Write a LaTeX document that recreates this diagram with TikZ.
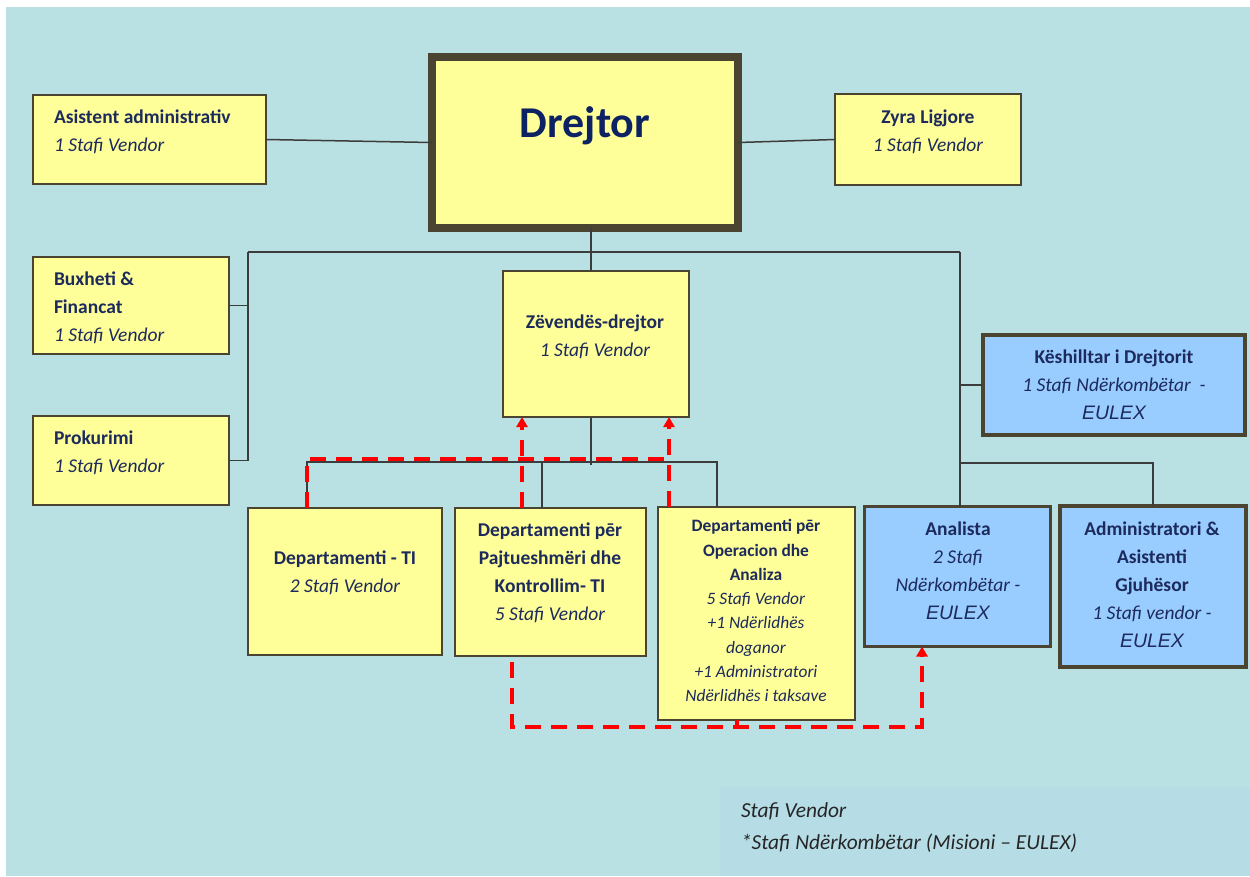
\documentclass[tikz,border=0pt]{standalone}
\usepackage{fontspec}
\setmainfont{Carlito}
\newfontfamily\arialf{Liberation Sans}
\usetikzlibrary{arrows.meta}
\definecolor{bg}{RGB}{185,224,226}
\definecolor{legbg}{RGB}{182,220,230}
\definecolor{yel}{RGB}{255,255,153}
\definecolor{blu}{RGB}{153,204,255}
\definecolor{bord}{RGB}{74,68,49}
\definecolor{navy}{RGB}{28,42,92}
\definecolor{dnavy}{RGB}{12,34,98}
\definecolor{conn}{RGB}{60,60,60}
\newcommand\eul{{\arialf\itshape\fontsize{19.5}{28}\selectfont EULEX}}
\begin{document}
\begin{tikzpicture}[x=1pt,y=-1pt,
  box/.style={draw=bord, inner sep=0pt, outer sep=0pt, anchor=north west},
  ybox/.style={box, fill=yel, line width=2pt},
  bbox/.style={box, fill=blu, line width=4pt},
  txt/.style={inner sep=0pt, outer sep=0pt, anchor=north, align=center, text=navy, font=\fontsize{19.5}{28}\selectfont},
  ltxt/.style={txt, anchor=north west, align=left},
  stxt/.style={txt, font=\fontsize{17.4}{24.3}\selectfont},
  conline/.style={draw=conn, line width=1.5pt},
  rdash/.style={draw=red, line width=3.6pt, dash pattern=on 16pt off 10pt},
  rtip/.style={-{Triangle[width=11pt,length=10pt]}}
]
\useasboundingbox (0,0) rectangle (1250,876);
\fill[white] (0,0) rectangle (1250,876);
\fill[bg] (6,7) rectangle (1250,876);
\fill[legbg] (720,787) rectangle (1250,876);

% coordinates for buses
\coordinate (lbus) at (248,252);
\coordinate (rbus) at (960,252);
\coordinate (tc) at (591,252);
\coordinate (dl) at (307,462);
\coordinate (dr) at (717,462);
\coordinate (pd) at (542,462);
\coordinate (abr) at (960,463);
\coordinate (ra) at (522,459);
\coordinate (rb) at (669,459);
\coordinate (rc) at (512,727);
\coordinate (rd) at (922,727);
\coordinate (re) at (737,727);

% boxes
\node[ybox, minimum width=233pt, minimum height=89pt] (asist) at (33,95) {};
\node[ybox, minimum width=196pt, minimum height=97pt] (buxh) at (33,257) {};
\node[ybox, minimum width=196pt, minimum height=89pt] (prok) at (33,416) {};
\node[ybox, minimum width=186pt, minimum height=91pt] (zyra) at (835,94) {};
\node[ybox, minimum width=186pt, minimum height=146pt] (zev) at (503,271) {};
\node[ybox, minimum width=194pt, minimum height=147pt] (deptti) at (248,508) {};
\node[ybox, minimum width=191pt, minimum height=148pt] (pajt) at (455,508) {};
\node[ybox, minimum width=197pt, minimum height=213pt] (oper) at (658,507) {};
\node[box, fill=yel, line width=8pt, minimum width=306pt, minimum height=171pt] (drejtor) at (432,57) {};
\node[bbox, minimum width=262pt, minimum height=100pt] (kesh) at (983,335) {};
\node[bbox, line width=3pt, minimum width=186pt, minimum height=140pt] (anal) at (864.5,506.5) {};
\node[bbox, minimum width=186pt, minimum height=161pt] (admin) at (1060,506) {};

% connectors
\draw[conline] (lbus) -- (rbus);
\draw[conline] (lbus) |- (prok.east);
\draw[conline] (rbus) -- (rbus |- anal.north);
\draw[conline] (abr) -| (admin.north);
\draw[conline] (tc |- zev.south) -- (tc |- 0,465);
\draw[conline] (dl |- deptti.north) -- (dl) -- (dr) -- (dr |- oper.north);
\draw[conline] (pd) -- (pd |- pajt.north);
\draw[conline] (asist.east) -- (drejtor.west);
\draw[conline] (drejtor.east) -- (zyra.west);
\draw[conline] (tc |- drejtor.south) -- (tc |- zev.north);
\draw[conline] (buxh.east) -- (buxh.east -| lbus);
\draw[conline] (kesh.west) -- (kesh.west -| rbus);

% red dashed relations
\draw[rdash] (dl |- deptti.north) |- (rb);
\draw[rdash, rtip] (ra |- pajt.north) -- (ra |- zev.south);
\draw[rdash, rtip] (rb |- oper.north) -- (rb |- zev.south);
\draw[rdash, rtip] ([yshift=-6pt]rc |- pajt.south) -- (rc) -- (rd) -- (rd |- anal.south);
\draw[draw=red, line width=3.6pt] (re |- oper.south) -- (re);

% texts
\node[inner sep=0pt, anchor=base, text=dnavy, font=\fontsize{44}{44}\selectfont\bfseries] (drT) at (585,137) {Drejtor};
\node[ltxt] (asistT) at (54,110) {\textbf{Asistent administrativ}\\\textit{1 Stafi Vendor}};
\node[txt] (zyraT) at (928,110) {\textbf{Zyra Ligjore}\\\textit{1 Stafi Vendor}};
\node[ltxt] (buxhT) at (54,272) {\textbf{Buxheti \&}\\\textbf{Financat}\\\textit{1 Stafi Vendor}};
\node[ltxt] (prokT) at (54,431) {\textbf{Prokurimi}\\\textit{1 Stafi Vendor}};
\node[txt] (zevT) at (595,315) {\textbf{Zëvendës-drejtor}\\\textit{1 Stafi Vendor}};
\node[txt] (depttiT) at (345,551) {\textbf{Departamenti - TI}\\\textit{2 Stafi Vendor}};
\node[txt] (pajtT) at (550,523) {\textbf{Departamenti pēr}\\\textbf{Pajtueshmëri dhe}\\\textbf{Kontrollim- TI}\\\textit{5 Stafi Vendor}};
\node[stxt] (operT) at (756,519.5) {\textbf{Departamenti pēr}\\\textbf{Operacion dhe}\\\textbf{Analiza}\\\textit{5 Stafi Vendor}\\\textit{+1 Ndërlidhës}\\\textit{doganor}\\\textit{+1 Administratori}\\\textit{Ndërlidhës i taksave}};
\node[txt] (keshT) at (1114,350) {\textbf{Këshilltar i Drejtorit}\\\textit{1 Stafi Ndërkombëtar~~-}\\\eul};
\node[txt] (analT) at (958,522) {\textbf{Analista}\\\textit{2 Stafi}\\\textit{Ndërkombëtar -}\\\eul};
\node[txt] (adminT) at (1152,522) {\textbf{Administratori \&}\\\textbf{Asistenti}\\\textbf{Gjuhësor}\\\textit{1 Stafi vendor -}\\\eul};
\node[ltxt, text=black!85, font=\fontsize{21.4}{32}\selectfont\itshape] (legT) at (741,803) {Stafi Vendor\\*Stafi Ndërkombëtar (Misioni – EULEX)};
\end{tikzpicture}
\end{document}
